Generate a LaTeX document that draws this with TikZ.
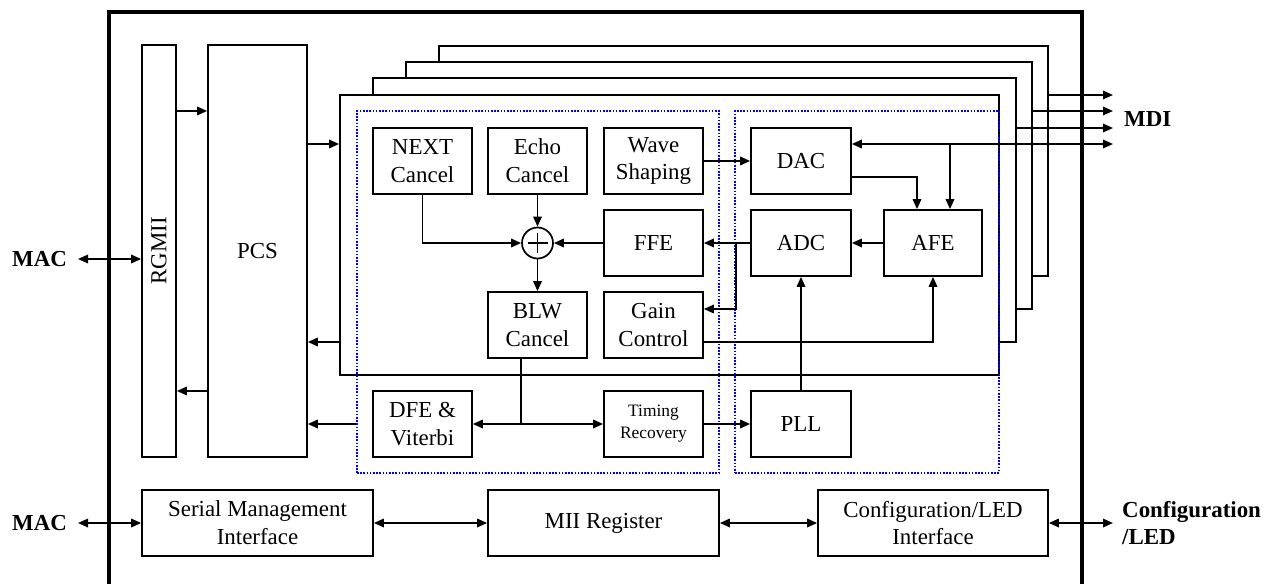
\documentclass[tikz,border=0pt]{standalone}
\usepackage{fontspec}
\setmainfont{Liberation Serif}
\usetikzlibrary{arrows.meta}
\begin{document}
\begin{tikzpicture}[x=1bp,y=-1bp,
  lw/.style={line width=1.7bp},
  blk/.style={draw,lw,fill=white,align=center,inner sep=0pt,
    font=\fontsize{23}{28}\selectfont, minimum width=99bp, minimum height=66bp},
  grp/.style={draw=blue,line width=1.4bp,dash pattern=on 1.6bp off 1.6bp,inner sep=0pt},
  stack/.style={draw,lw,fill=white},
  arr/.style={lw,-{Triangle[length=10bp,width=8.5bp]}},
  darr/.style={lw,{Triangle[length=10bp,width=8.5bp]}-{Triangle[length=10bp,width=8.5bp]}},
  lbl/.style={font=\fontsize{23}{28}\selectfont\bfseries,align=left,inner sep=0pt}]
\useasboundingbox (0,0) rectangle (1276,584);
% outer chip boundary
\draw[line width=4bp] (109,590) -- (109,12) -- (1082,12) -- (1082,590);
% stacked channel boxes
\draw[stack] (439,46) rectangle (1048,276);
\draw[stack] (406,62) rectangle (1032,309);
\draw[stack] (373,78) rectangle (1016,342);
\node[stack,inner sep=0pt,minimum width=659bp,minimum height=280bp] (stk) at (669.5,235) {};
% dotted groups
\node[grp,minimum width=362bp,minimum height=362bp] (lgrp) at (538,292) {};
\node[grp,minimum width=264bp,minimum height=362bp] (rgrp) at (867,292) {};
% left column
\node[blk,minimum width=34bp,minimum height=412bp] (rgmii) at (159,251) {};
\node[font=\fontsize{23}{28}\selectfont,rotate=90] at (rgmii.center) {RGMII};
\node[blk,minimum width=99bp,minimum height=412bp] (pcs) at (257.5,251) {PCS};
% DSP blocks
\node[blk] (next) at (422.5,161) {NEXT\\Cancel};
\node[blk] (echo) at (537.5,161) {Echo\\Cancel};
\node[blk] (wave) at (653.5,161) {Wave\\Shaping};
\node[blk,minimum width=100bp] (dac) at (801,161) {DAC};
\node[blk] (ffe) at (653.5,243) {FFE};
\node[blk,minimum width=100bp] (adc) at (801,243) {ADC};
\node[blk,minimum width=98bp] (afe) at (933,243) {AFE};
\node[draw,lw,circle,minimum size=31bp,inner sep=0pt] (sum) at (537.5,243) {};
\draw[lw] ([xshift=-10bp]sum.center) -- ([xshift=10bp]sum.center);
\draw[lw] ([yshift=-10bp]sum.center) -- ([yshift=10bp]sum.center);
\node[blk] (blw) at (537.5,325) {BLW\\Cancel};
\node[blk] (gain) at (653.5,325) {Gain\\Control};
\node[blk] (dfe) at (422.5,424) {DFE \&\\Viterbi};
\node[blk,font=\fontsize{17.5}{22}\selectfont] (tim) at (653.5,424) {Timing\\Recovery};
\node[blk,minimum width=100bp] (pll) at (801,424) {PLL};
% bottom row
\node[blk,minimum width=231bp] (smi) at (257.5,523) {Serial Management\\Interface};
\node[blk,minimum width=231bp] (mii) at (603.5,523) {MII Register};
\node[blk,minimum width=230bp] (cfg) at (933,523) {Configuration/LED\\Interface};
% external labels
\node[lbl,anchor=west] (mac1) at (12,259) {MAC};
\node[lbl,anchor=west] (mac2) at (12,523) {MAC};
\node[lbl,anchor=west] (mdi) at (1124,119) {MDI};
\node[lbl,anchor=west] (cfgl) at (1122,523) {Configuration\\/LED};
\coordinate (mdiend) at (1113,144);
\coordinate (cfgend) at (1113,523);
% left side connections
\draw[darr] (78,259) -- (rgmii.west |- 0,259);
\draw[darr] (78,523) -- (smi.west);
\draw[arr] (rgmii.east |- 0,111) -- (pcs.west |- 0,111);
\draw[arr] (pcs.west |- 0,391) -- (rgmii.east |- 0,391);
\draw[arr] (pcs.east |- 0,144) -- (stk.west |- 0,144);
\draw[arr] (stk.west |- 0,342) -- (pcs.east |- 0,342);
\draw[arr] (lgrp.west |- 0,424) -- (pcs.east |- 0,424);
% MDI lines
\draw[arr] (1048,95) -- (mdiend |- 0,95);
\draw[arr] (1032,111) -- (mdiend |- 0,111);
\draw[arr] (1016,128) -- (mdiend |- 0,128);
\draw[darr] (dac.east |- 0,144) -- (mdiend);
\draw[arr] (950,144) -- (afe.north -| 950,0);
\draw[arr] (dac.east |- 0,177) -| (afe.north -| 917,0);
% DSP connections
\draw[arr] (wave.east) -- (dac.west);
\draw[arr] (afe.west) -- (adc.east);
\draw[arr] (adc.west) -- (ffe.east);
\draw[arr] (736,243) |- (gain.east |- 0,309);
\draw[arr] (gain.east |- 0,342) -| (afe.south);
\draw[arr] (pll.north) -- (adc.south);
\draw[arr] (ffe.west) -- (sum.east);
\draw[arr] (next.south) |- (sum.west);
\draw[arr] (echo.south) -- (sum.north);
\draw[arr] (sum.south) -- (blw.north);
\coordinate (split) at (521,424);
\draw[lw] (blw.south -| split) -- (split);
\draw[arr] (split) -- (dfe.east);
\draw[arr] (split) -- (tim.west);
\draw[arr] (tim.east) -- (pll.west);
% bottom connections
\draw[darr] (smi.east) -- (mii.west);
\draw[darr] (mii.east) -- (cfg.west);
\draw[darr] (cfg.east) -- (cfgend);
\end{tikzpicture}
\end{document}
